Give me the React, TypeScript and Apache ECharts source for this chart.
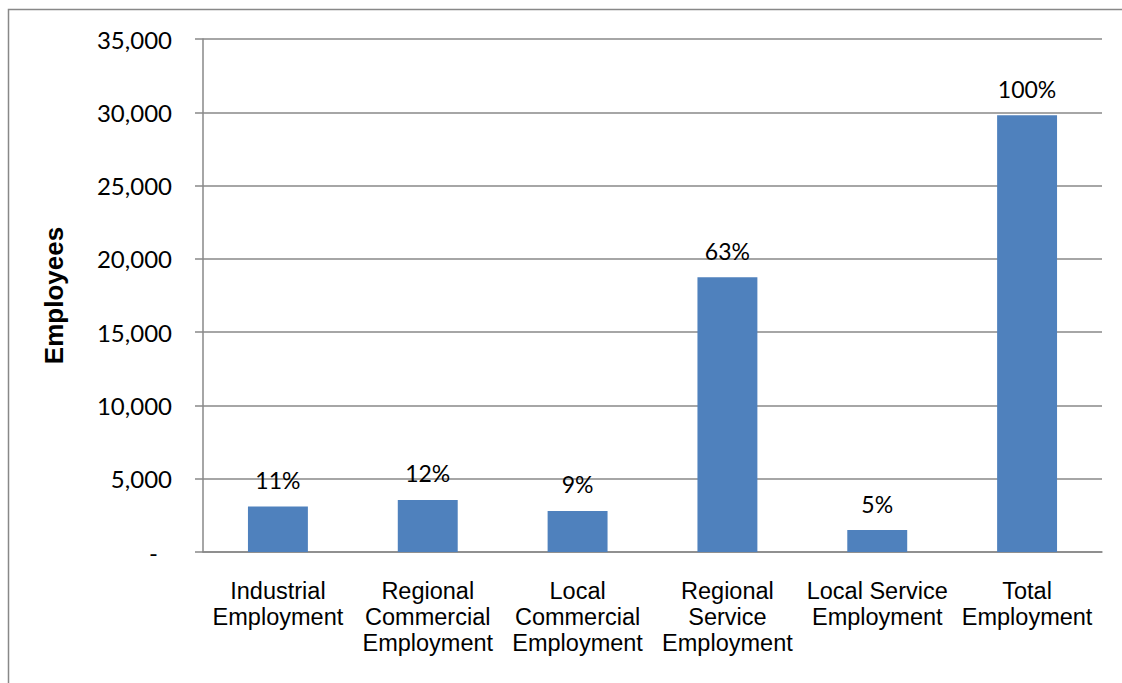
import React, { useEffect, useRef } from "react";
import * as echarts from "echarts";

const categories = [
  "Industrial\nEmployment",
  "Regional\nCommercial\nEmployment",
  "Local\nCommercial\nEmployment",
  "Regional\nService\nEmployment",
  "Local Service\nEmployment",
  "Total\nEmployment",
];
const employees = [3100, 3550, 2800, 18750, 1500, 29800];
const shareLabels = ["11%", "12%", "9%", "63%", "5%", "100%"];
const yTicks = { min: 0, max: 35000, interval: 5000 };
const axisTitle = "Employees";

export default function App() {
  const ref = useRef<HTMLDivElement>(null);
  useEffect(() => {
    if (!ref.current) return;
    const chart = echarts.init(ref.current, undefined, { renderer: "svg" });
    const gray = "#888888";
    chart.setOption({
      animation: false,
      backgroundColor: "#ffffff",
      graphic: [
        {
          type: "rect",
          shape: { x: 8.5, y: 9.5, width: 1200, height: 800 },
          style: { fill: "none", stroke: gray, lineWidth: 1.5 },
          silent: true,
        },
      ],
      grid: { left: 203, right: 20, top: 39, bottom: 131, containLabel: false },
      xAxis: {
        type: "category",
        data: categories,
        axisLine: { show: true, lineStyle: { color: gray, width: 1.5 } },
        axisTick: { show: false },
        axisLabel: {
          interval: 0,
          margin: 26,
          color: "#000",
          fontFamily: "Liberation Sans, Arial, sans-serif",
          fontSize: 23.5,
          lineHeight: 26,
          align: "center",
        },
      },
      yAxis: {
        type: "value",
        min: yTicks.min,
        max: yTicks.max,
        interval: yTicks.interval,
        name: axisTitle,
        nameLocation: "middle",
        nameRotate: 90,
        nameGap: 136,
        nameTextStyle: {
          fontFamily: "Liberation Sans, Arial, sans-serif",
          fontWeight: "bold",
          fontSize: 26,
          color: "#000",
        },
        axisLine: { show: true, lineStyle: { color: gray, width: 1.5 } },
        axisTick: { show: true, length: 8, lineStyle: { color: gray, width: 1.5 } },
        splitLine: { show: true, lineStyle: { color: gray, width: 1.5 } },
        axisLabel: {
          margin: 31,
          color: "#000",
          fontFamily: "Lato, sans-serif",
          fontSize: 24,
          formatter: (v: number) =>
            v === 0 ? "{z|-}" : v.toLocaleString("en-US"),
          rich: {
            z: {
              fontFamily: "Lato, sans-serif",
              fontSize: 24,
              color: "#000",
              padding: [0, 14, 0, 0],
            },
          },
        },
      },
      series: [
        {
          type: "bar",
          data: employees,
          barWidth: "40%",
          itemStyle: { color: "#4F81BD" },
          label: {
            show: true,
            position: "top",
            distance: 15,
            color: "#000",
            fontFamily: "Lato, sans-serif",
            fontSize: 23,
            formatter: (p: any) => shareLabels[p.dataIndex],
          },
        },
      ],
    });
    return () => chart.dispose();
  }, []);
  return (
    <div
      ref={ref}
      style={{ position: "fixed", left: 0, top: 0, width: 1122, height: 683, background: "#fff" }}
    />
  );
}
